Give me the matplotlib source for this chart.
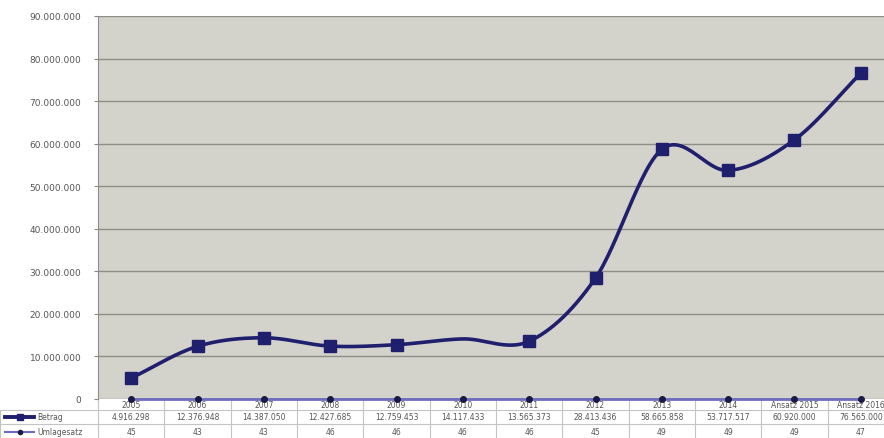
import numpy as np
import matplotlib
matplotlib.use("Agg")
import matplotlib.pyplot as plt
from matplotlib.ticker import FuncFormatter
from matplotlib.transforms import blended_transform_factory

# data
categories = ["2005", "2006", "2007", "2008", "2009", "2010", "2011",
              "2012", "2013", "2014", "Ansatz 2015", "Ansatz 2016"]
betrag = [4916298, 12376948, 14387050, 12427685, 12759453, 14117433,
          13565373, 28413436, 58665858, 53717517, 60920000, 76565000]
umlagesatz = [45, 43, 43, 46, 46, 46, 46, 45, 49, 49, 49, 47]
row_labels = ["Betrag", "Umlagesatz"]

navy = "#1f1f6e"
light_line = "#6c6cc0"
txt = "#555555"


def fmt_de(v):
    return f"{int(v):,}".replace(",", ".")


def smooth(xs, ys, n=30):
    # Catmull-Rom style smoothing like Excel's "smoothed line"
    xs = np.asarray(xs, float)
    ys = np.asarray(ys, float)
    px = np.concatenate([[2 * xs[0] - xs[1]], xs, [2 * xs[-1] - xs[-2]]])
    py = np.concatenate([[2 * ys[0] - ys[1]], ys, [2 * ys[-1] - ys[-2]]])
    out_x, out_y = [], []
    t = np.linspace(0, 1, n)
    for i in range(1, len(px) - 2):
        for arr, p in ((out_x, px), (out_y, py)):
            p0, p1, p2, p3 = p[i - 1], p[i], p[i + 1], p[i + 2]
            c1 = p1 + (p2 - p0) / 6
            c2 = p2 - (p3 - p1) / 6
            arr.extend((1 - t) ** 3 * p1 + 3 * (1 - t) ** 2 * t * c1
                       + 3 * (1 - t) * t ** 2 * c2 + t ** 3 * p2)
    return np.array(out_x), np.array(out_y)


fig = plt.figure(figsize=(8.84, 4.39), dpi=100)
W, H = 884, 439
left_px, right_px, top_px, bottom_px = 98, 894, 17, 400
ax = fig.add_axes([left_px / W, 1 - bottom_px / H,
                   (right_px - left_px) / W, (bottom_px - top_px) / H])
ax.set_facecolor("#d3d3cb")

x = np.arange(len(categories))
sx, sy = smooth(x, betrag)
ax.plot(sx, sy, color=navy, lw=2.6, zorder=4, solid_capstyle="round")
marker_idx = [i for i in range(len(x)) if i != 5]
ax.plot(x[marker_idx], np.array(betrag)[marker_idx], ls="none", marker="s",
        ms=9, color=navy, zorder=5)
ax.plot(x, umlagesatz, color=light_line, lw=2, zorder=4, clip_on=False)
ax.plot(x, umlagesatz, ls="none", marker="o", ms=4, color="#1a1a45",
        zorder=6, clip_on=False)

ax.set_xlim(-0.5, len(categories) - 0.5)
ax.set_ylim(0, 90000000)
ax.set_yticks(np.arange(0, 90000001, 10000000))
ax.yaxis.set_major_formatter(FuncFormatter(lambda v, p: fmt_de(v)))
ax.tick_params(axis="y", labelsize=6.5, labelcolor=txt, color="#888888",
               length=3, pad=9)
ax.set_xticks([])
ax.grid(axis="y", color="#8e8e86", lw=1)
ax.set_axisbelow(True)
for s in ["top", "right"]:
    ax.spines[s].set_visible(False)
ax.spines["left"].set_color("#8e8e86")
ax.spines["bottom"].set_visible(False)

# data table below the plot
tr = blended_transform_factory(ax.transData, fig.transFigure)
fy = lambda py: 1 - py / H
line_kw = dict(color="#c4c4c4", lw=0.8, clip_on=False)
for b in np.arange(-0.5, len(categories), 1.0):
    ax.plot([b, b], [fy(400), fy(439)], transform=tr, **line_kw)
for py in (411, 425):
    fig.add_artist(plt.Line2D([0, 1], [fy(py), fy(py)],
                              transform=fig.transFigure, **line_kw))
fig.add_artist(plt.Line2D([0, 0], [fy(411), fy(439)],
                          transform=fig.transFigure, **line_kw))

for i, c in enumerate(categories):
    ax.text(i, fy(405.5), c, transform=tr, ha="center", va="center",
            fontsize=5.5, color=txt)
    ax.text(i, fy(418), fmt_de(betrag[i]), transform=tr, ha="center",
            va="center", fontsize=5.5, color=txt)
    ax.text(i, fy(432.5), str(umlagesatz[i]), transform=tr, ha="center",
            va="center", fontsize=5.5, color=txt)

# legend keys in the table's first column
fig.add_artist(plt.Line2D([5 / W, 34 / W], [fy(418), fy(418)],
                          transform=fig.transFigure, color=navy, lw=2.8))
fig.add_artist(plt.Line2D([19.5 / W], [fy(418)], transform=fig.transFigure,
                          marker="s", ms=4, color=navy, ls="none"))
fig.add_artist(plt.Line2D([5 / W, 34 / W], [fy(432.5), fy(432.5)],
                          transform=fig.transFigure, color=light_line, lw=1.5))
fig.add_artist(plt.Line2D([19.5 / W], [fy(432.5)], transform=fig.transFigure,
                          marker="o", ms=3, color="#1a1a45", ls="none"))
fig.text(37 / W, fy(418), row_labels[0], ha="left", va="center",
         fontsize=5.5, color=txt)
fig.text(37 / W, fy(432.5), row_labels[1], ha="left", va="center",
         fontsize=5.5, color=txt)

fig.savefig("out.png", dpi=100)
